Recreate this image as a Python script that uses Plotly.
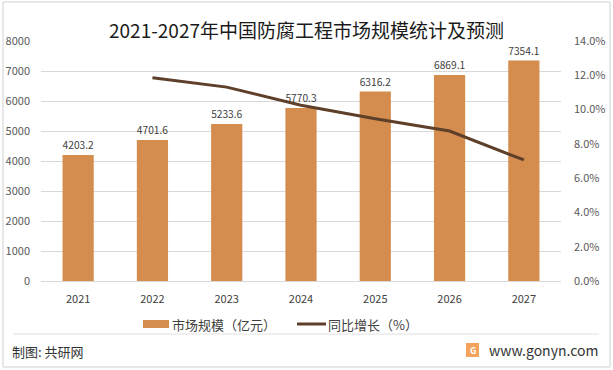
import plotly.graph_objects as go

years = ["2021", "2022", "2023", "2024", "2025", "2026", "2027"]
market_size = [4203.2, 4701.6, 5233.6, 5770.3, 6316.2, 6869.1, 7354.1]
growth_years = ["2022", "2023", "2024", "2025", "2026", "2027"]
growth_pct = [11.86, 11.31, 10.25, 9.46, 8.75, 7.06]

left_ticks = [0, 1000, 2000, 3000, 4000, 5000, 6000, 7000, 8000]
right_ticks = [0, 2, 4, 6, 8, 10, 12, 14]

FONT = "Microsoft YaHei, Noto Sans CJK SC, sans-serif"
BAR_C = "#D48C4F"
LINE_C = "#5E3F2A"

L, T, W, H = 41, 41, 520, 240  # plot area in px


def px(x):
    return (x - L) / W


def py(y):
    return (T + H - y) / H


fig = go.Figure()
fig.add_trace(go.Bar(
    x=years, y=market_size, name="市场规模（亿元）",
    marker=dict(color=BAR_C, line=dict(width=0)), width=0.42,
    text=[f"{v:.1f}" for v in market_size], textposition="outside",
    textfont=dict(size=11, color="#404040"), cliponaxis=False, showlegend=False,
))
fig.add_trace(go.Scatter(
    x=growth_years, y=growth_pct, name="同比增长（%）", yaxis="y2",
    mode="lines", line=dict(color=LINE_C, width=3), showlegend=False,
))

fig.update_layout(
    width=613, height=370,
    margin=dict(l=L, r=613 - L - W, t=T, b=370 - T - H),
    paper_bgcolor="white", plot_bgcolor="white",
    font=dict(family=FONT, size=11, color="#404040"),
    title=dict(text="2021-2027年中国防腐工程市场规模统计及预测", x=0.5, xanchor="center",
               y=1 - 31 / 370, yanchor="middle", font=dict(size=19, color="#1a1a1a")),
    xaxis=dict(showgrid=False, showline=True, linecolor="#d9d9d9", ticks="",
               tickfont=dict(size=11, color="#404040"), automargin=False, ticklabelstandoff=8),
    yaxis=dict(range=[0, 8000], tickvals=left_ticks, showgrid=True, gridcolor="#d9d9d9",
               zeroline=False, ticks="", tickfont=dict(size=11, color="#595959"),
               ticklabelstandoff=10, automargin=False),
    yaxis2=dict(range=[0, 14], tickvals=right_ticks, ticktext=[f"{v:.1f}%" for v in right_ticks],
                overlaying="y", side="right", showgrid=False, zeroline=False, ticks="",
                tickfont=dict(size=11, color="#595959"), ticklabelstandoff=12, automargin=False),
    showlegend=False,
)

# custom legend
fig.add_shape(type="rect", xref="paper", yref="paper", x0=px(143), x1=px(169),
              y0=py(328), y1=py(320), fillcolor=BAR_C, line=dict(width=0))
fig.add_annotation(text="市场规模（亿元）", xref="paper", yref="paper", x=px(170), xanchor="left",
                   y=py(324), yanchor="middle", showarrow=False,
                   font=dict(size=13, color="#404040"))
fig.add_shape(type="line", xref="paper", yref="paper", x0=px(297), x1=px(326),
              y0=py(324), y1=py(324), line=dict(color=LINE_C, width=3))
fig.add_annotation(text="同比增长（%）", xref="paper", yref="paper", x=px(326), xanchor="left",
                   y=py(324), yanchor="middle", showarrow=False,
                   font=dict(size=13, color="#404040"))

# frame, separator, footer
fig.add_shape(type="rect", xref="paper", yref="paper", x0=px(3), x1=px(610),
              y0=py(367), y1=py(2), line=dict(color="#d0d0d0", width=1))
fig.add_shape(type="line", xref="paper", yref="paper", x0=px(13), x1=px(599),
              y0=py(334), y1=py(334), line=dict(color="#e0e0e0", width=1))
fig.add_annotation(text="制图: 共研网", xref="paper", yref="paper", x=px(10), xanchor="left",
                   y=py(351), yanchor="middle", showarrow=False,
                   font=dict(size=13, color="#333333"))
fig.add_annotation(text="www.gonyn.com", xref="paper", yref="paper", x=px(600), xanchor="right",
                   y=py(350), yanchor="middle", showarrow=False,
                   font=dict(size=14, color="#333333"))
fig.add_shape(type="rect", xref="paper", yref="paper", x0=px(466), x1=px(479),
              y0=py(357), y1=py(343), fillcolor="#F5A25D", line=dict(width=0))
fig.add_annotation(text="<b>G</b>", xref="paper", yref="paper", x=px(472.5), xanchor="center",
                   y=py(350), yanchor="middle", showarrow=False,
                   font=dict(size=9, color="white"))

fig.write_html("out.html", config={"displayModeBar": False},
               post_script="document.body.style.margin='0';document.body.style.overflow='hidden';")
